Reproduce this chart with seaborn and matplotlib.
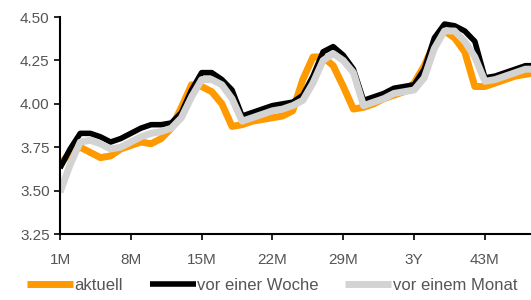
import numpy as np
import pandas as pd
import seaborn as sns
import matplotlib.pyplot as plt

months = list(range(1, 49))

aktuell = [3.65, 3.72, 3.75, 3.72, 3.69, 3.70, 3.74, 3.76, 3.78, 3.77, 3.80, 3.86,
           3.98, 4.11, 4.10, 4.07, 4.00, 3.87, 3.88, 3.90, 3.91, 3.92, 3.93, 3.96,
           4.14, 4.27, 4.27, 4.22, 4.10, 3.97, 3.98, 4.00, 4.03, 4.05, 4.07, 4.12,
           4.22, 4.35, 4.42, 4.38, 4.30, 4.10, 4.10, 4.12, 4.14, 4.16, 4.17, 4.18]

vor_woche = [3.63, 3.74, 3.83, 3.83, 3.81, 3.78, 3.80, 3.83, 3.86, 3.88, 3.88, 3.89,
             3.95, 4.08, 4.18, 4.18, 4.14, 4.08, 3.93, 3.95, 3.97, 3.99, 4.00, 4.01,
             4.05, 4.16, 4.30, 4.33, 4.28, 4.20, 4.02, 4.04, 4.06, 4.09, 4.10, 4.11,
             4.20, 4.38, 4.46, 4.45, 4.42, 4.36, 4.15, 4.16, 4.18, 4.20, 4.22, 4.22]

vor_monat = [3.49, 3.65, 3.78, 3.79, 3.77, 3.74, 3.75, 3.78, 3.81, 3.83, 3.84, 3.86,
             3.92, 4.04, 4.14, 4.14, 4.11, 4.03, 3.90, 3.92, 3.94, 3.96, 3.97, 3.99,
             4.02, 4.12, 4.25, 4.29, 4.25, 4.18, 3.99, 4.01, 4.03, 4.06, 4.07, 4.08,
             4.15, 4.32, 4.42, 4.42, 4.36, 4.27, 4.13, 4.14, 4.16, 4.18, 4.20, 4.20]

tick_pos = [1, 8, 15, 22, 29, 36, 43]
tick_labels = ["1M", "8M", "15M", "22M", "29M", "3Y", "43M"]
y_ticks = [3.25, 3.50, 3.75, 4.00, 4.25, 4.50]

sns.set_style("ticks")
plt.rcParams["font.family"] = ["Liberation Sans", "DejaVu Sans"]

fig = plt.figure(figsize=(5.31, 3.0), dpi=100)
ax = fig.add_axes([0.113, 0.22, 0.887, 0.723])

line_kw = dict(solid_joinstyle="round", solid_capstyle="butt")
sns.lineplot(x=months, y=aktuell, ax=ax, color="#ff9900", lw=5, label="aktuell", **line_kw)
sns.lineplot(x=months, y=vor_woche, ax=ax, color="black", lw=4, label="vor einer Woche", **line_kw)
sns.lineplot(x=months, y=vor_monat, ax=ax, color="#d3d3d3", lw=5, label="vor einem Monat", **line_kw)

ax.set_xlim(1, 47.55)
ax.set_ylim(3.25, 4.50)
ax.set_xticks(tick_pos)
ax.set_xticklabels(tick_labels)
ax.set_yticks(y_ticks)
ax.set_yticklabels([f"{v:.2f}" for v in y_ticks])
ax.tick_params(colors="black", labelcolor="#555555", labelsize=11, length=4, width=1.2)
ax.tick_params(axis="x", pad=10)
sns.despine(ax=ax)
for s in ("left", "bottom"):
    ax.spines[s].set_linewidth(1.5)
    ax.spines[s].set_color("black")

ax.get_legend().remove()
h, l = ax.get_legend_handles_labels()
fig.legend(h, l, loc="center left", bbox_to_anchor=(0.051, 0.05), ncol=3,
           frameon=False, handlelength=2.75, handletextpad=0.1, columnspacing=1.6,
           labelcolor="#555555", fontsize=12, borderaxespad=0, borderpad=0)

fig.savefig("out.png", dpi=100)
